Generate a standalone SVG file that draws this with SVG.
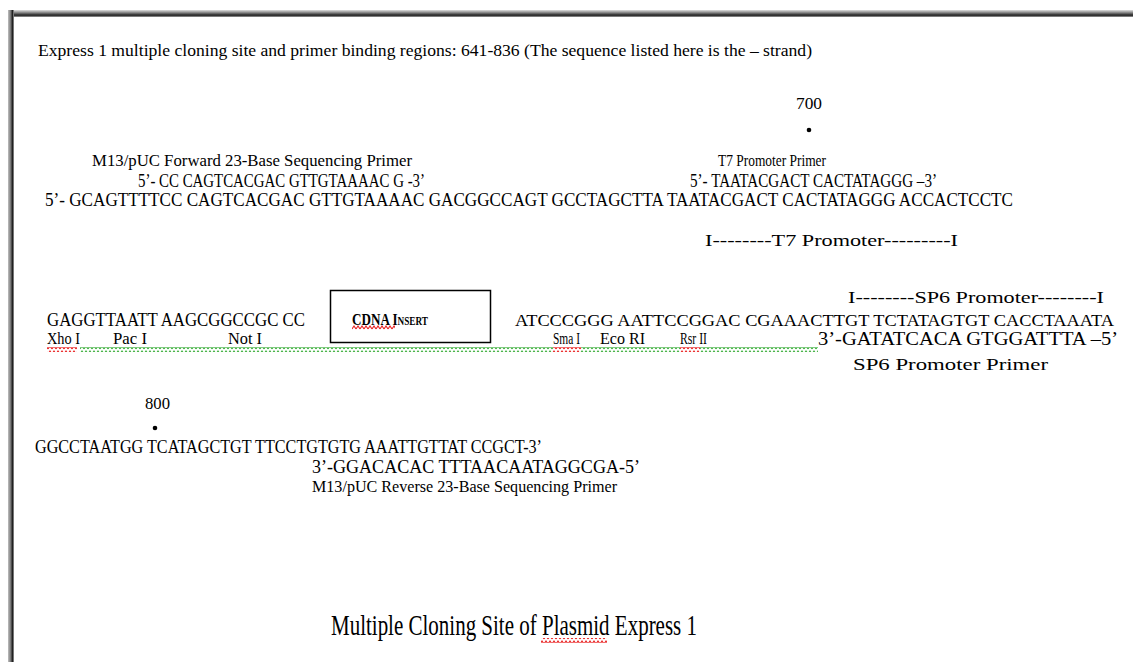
<svg xmlns="http://www.w3.org/2000/svg" width="1133" height="662" viewBox="0 0 1133 662">
<style>
.t{font-family:"Liberation Serif","Times New Roman",serif;fill:#000}
.s{font-size:17px}
.q{font-size:19px}
.ti{font-size:30px}
</style>
<defs>
<linearGradient id="gt" x1="0" y1="0" x2="0" y2="1">
<stop offset="0" stop-color="#e0e0e0"/><stop offset="0.4" stop-color="#808080"/><stop offset="0.75" stop-color="#202020"/><stop offset="1" stop-color="#a0a0a0"/>
</linearGradient>
<linearGradient id="gl" x1="0" y1="0" x2="1" y2="0">
<stop offset="0" stop-color="#c0c0c0"/><stop offset="0.4" stop-color="#808080"/><stop offset="0.75" stop-color="#202020"/><stop offset="1" stop-color="#a0a0a0"/>
</linearGradient>
<pattern id="zg" width="4" height="5" patternUnits="userSpaceOnUse"><polyline points="0,4 2,1 4,4" fill="none" stroke="#3cae3c" stroke-width="1.1"/></pattern>
<pattern id="zr" width="4" height="5" patternUnits="userSpaceOnUse"><polyline points="0,4 2,1 4,4" fill="none" stroke="#e82020" stroke-width="1.1"/></pattern>
</defs>
<rect width="1133" height="662" fill="#fff"/>
<g id="frame">
<rect x="8" y="10" width="1125" height="7" fill="url(#gt)"/>
<rect x="8" y="10" width="6" height="652" fill="url(#gl)"/>
</g>
<g id="header"><text class="t" font-size="16" x="38" y="56" textLength="774" lengthAdjust="spacingAndGlyphs">Express 1 multiple cloning site and primer binding regions: 641-836  (The sequence listed here is the – strand)</text></g>
<g id="pos700">
<text class="t s" x="796" y="109" textLength="26" lengthAdjust="spacingAndGlyphs">700</text>
<circle cx="809" cy="130" r="2.3"/>
</g>
<g id="m13fwd">
<text class="t s" x="92" y="166" textLength="320" lengthAdjust="spacingAndGlyphs">M13/pUC Forward 23-Base Sequencing Primer</text>
<text class="t q" x="138" y="187" textLength="287" lengthAdjust="spacingAndGlyphs">5’- CC CAGTCACGAC GTTGTAAAAC G -3’</text>
</g>
<g id="t7primer">
<text class="t s" x="718" y="166" textLength="108" lengthAdjust="spacingAndGlyphs">T7 Promoter Primer</text>
<text class="t q" x="690" y="187" textLength="247" lengthAdjust="spacingAndGlyphs">5’- TAATACGACT CACTATAGGG –3’</text>
</g>
<g id="seq1"><text class="t q" x="45" y="206" textLength="968" lengthAdjust="spacingAndGlyphs">5’- GCAGTTTTCC CAGTCACGAC GTTGTAAAAC GACGGCCAGT GCCTAGCTTA TAATACGACT CACTATAGGG ACCACTCCTC</text></g>
<g id="t7promoter"><text class="t s" x="705" y="246" textLength="253" lengthAdjust="spacingAndGlyphs">I--------T7 Promoter---------I</text></g>
<g id="sp6promoter"><text class="t s" x="848" y="303" textLength="256" lengthAdjust="spacingAndGlyphs">I--------SP6 Promoter--------I</text></g>
<g id="seq2">
<text class="t q" x="47" y="326" textLength="258" lengthAdjust="spacingAndGlyphs">GAGGTTAATT AAGCGGCCGC CC</text>
<text class="t" font-size="17" x="515" y="326" textLength="599" lengthAdjust="spacingAndGlyphs">ATCCCGGG AATTCCGGAC CGAAACTTGT TCTATAGTGT CACCTAAATA</text>
</g>
<g id="insert">
<rect x="330.5" y="290.5" width="160" height="52" fill="none" stroke="#000" stroke-width="1.5"/>
<text class="t" x="352" y="325" font-weight="bold" font-size="17" font-variant="small-caps" textLength="76" lengthAdjust="spacingAndGlyphs">CDNA Insert</text>
<rect x="352" y="325" width="43" height="5" fill="url(#zr)"/>
</g>
<g id="sites">
<text class="t s" x="47" y="344" textLength="33" lengthAdjust="spacingAndGlyphs">Xho I</text>
<text class="t s" x="113" y="344" textLength="34" lengthAdjust="spacingAndGlyphs">Pac I</text>
<text class="t s" x="228" y="344" textLength="34" lengthAdjust="spacingAndGlyphs">Not I</text>
<text class="t s" x="553" y="344" textLength="27" lengthAdjust="spacingAndGlyphs">Sma I</text>
<text class="t s" x="600" y="344" textLength="45" lengthAdjust="spacingAndGlyphs">Eco RI</text>
<text class="t s" x="680" y="344" textLength="27" lengthAdjust="spacingAndGlyphs">Rsr II</text>
</g>
<g id="squiggles">
<rect x="47" y="347" width="30" height="5" fill="url(#zr)"/>
<rect x="80" y="347" width="473" height="5" fill="url(#zg)"/>
<rect x="553" y="347" width="28" height="5" fill="url(#zr)"/>
<rect x="581" y="347" width="99" height="5" fill="url(#zg)"/>
<rect x="680" y="347" width="20" height="5" fill="url(#zr)"/>
<rect x="700" y="347" width="118" height="5" fill="url(#zg)"/>
</g>
<g id="sp6primer">
<text class="t q" x="818" y="345" textLength="300" lengthAdjust="spacingAndGlyphs">3’-GATATCACA GTGGATTTA –5’</text>
<text class="t s" x="853" y="370" textLength="195" lengthAdjust="spacingAndGlyphs">SP6 Promoter Primer</text>
</g>
<g id="pos800">
<text class="t s" x="145" y="409" textLength="25" lengthAdjust="spacingAndGlyphs">800</text>
<circle cx="155" cy="428" r="2.3"/>
</g>
<g id="seq3"><text class="t q" x="35" y="453" textLength="507" lengthAdjust="spacingAndGlyphs">GGCCTAATGG TCATAGCTGT TTCCTGTGTG AAATTGTTAT CCGCT-3’</text></g>
<g id="m13rev">
<text class="t q" x="312" y="473" textLength="328" lengthAdjust="spacingAndGlyphs">3’-GGACACAC TTTAACAATAGGCGA-5’</text>
<text class="t s" x="312" y="492" textLength="305" lengthAdjust="spacingAndGlyphs">M13/pUC Reverse 23-Base Sequencing Primer</text>
</g>
<g id="title">
<text class="t ti" x="331" y="635" textLength="366" lengthAdjust="spacingAndGlyphs">Multiple Cloning Site of Plasmid Express 1</text>
<rect x="541" y="638" width="66" height="5" fill="url(#zr)"/>
</g>
</svg>
